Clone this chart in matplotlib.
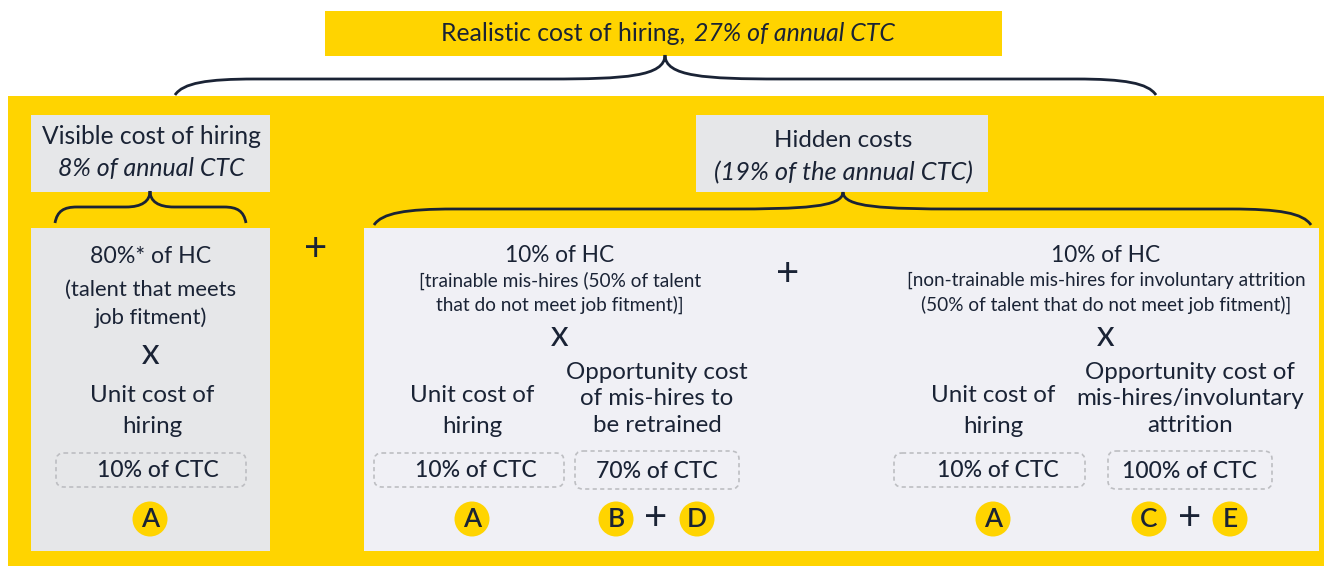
"""Realistic cost of hiring diagram."""
import matplotlib

matplotlib.use("Agg")
import matplotlib.pyplot as plt
from matplotlib.patches import FancyBboxPatch, Circle, PathPatch, Rectangle
from matplotlib.path import Path

YELLOW = "#FFD400"
GREY = "#E6E7E9"
LIGHT = "#F0F0F5"
INK = "#1A2335"
DASH = "#BDBEC2"

title_parts = ["Realistic cost of hiring,", "27% of annual CTC"]
visible_head = ["Visible cost of hiring", "8% of annual CTC"]
hidden_head = ["Hidden costs", "(19% of the annual CTC)"]
left_share = ["80%* of HC", "(talent that meets", "job fitment)"]
mid_share = ["10% of HC", "[trainable mis-hires (50% of talent", "that do not meet job fitment)]"]
right_share = ["10% of HC", "[non-trainable mis-hires for involuntary attrition", "(50% of talent that do not meet job fitment)]"]
unit_cost = ["Unit cost of", "hiring"]
mid_opportunity = ["Opportunity cost", "of mis-hires to", "be retrained"]
right_opportunity = ["Opportunity cost of", "mis-hires/involuntary", "attrition"]
unit_pct = "10% of CTC"
mid_pct = "70% of CTC"
right_pct = "100% of CTC"

plt.rcParams["font.family"] = ["Lato", "DejaVu Sans"]

fig = plt.figure(figsize=(13.24, 5.66), dpi=100)
ax = fig.add_axes([0, 0, 1, 1])
ax.set_xlim(0, 1324)
ax.set_ylim(566, 0)
ax.axis("off")


def box(x0, y0, x1, y1, color, z=1):
    ax.add_patch(Rectangle((x0, y0), x1 - x0, y1 - y0, fc=color, ec="none", zorder=z))


def label(x, y, text, size=17.4, ha="center", **kw):
    ax.text(x, y + 1.5, text, fontsize=size, ha=ha, va="center", color=INK, zorder=5, **kw)


def stack(x, ys, lines, size=17.4):
    for y, line in zip(ys, lines):
        label(x, y, line, size=size)


def dashed(x0, y0, x1, y1):
    ax.add_patch(FancyBboxPatch((x0 + 8, y0 + 8), x1 - x0 - 16, y1 - y0 - 16,
                                boxstyle="round,pad=8,rounding_size=8", fc="none",
                                ec=DASH, lw=1.2, ls=(0, (2.5, 2)), zorder=4))


def badge(x, y, letter):
    ax.add_patch(Circle((x, y), 17.5, fc=YELLOW, ec="none", zorder=4))
    label(x, y - 1, letter, size=19, weight="semibold")


def brace(x0, xm, x1, tip, bar, end, run, tip_run, pinch=0.3, lw=2.0):
    # run is the curve at each end, tip_run the curve going into the tip
    knee = bar - (bar - tip) * pinch
    verts = [(x0, end), (x0 + run * 0.1, bar + (end - bar) * 0.25), (x0 + run * 0.4, bar), (x0 + run, bar)]
    codes = [Path.MOVETO, Path.CURVE4, Path.CURVE4, Path.CURVE4]
    verts += [(xm - tip_run, bar)]
    codes += [Path.LINETO]
    verts += [(xm - tip_run * 0.35, bar), (xm, knee), (xm, tip)]
    codes += [Path.CURVE4, Path.CURVE4, Path.CURVE4]
    verts += [(xm, knee), (xm + tip_run * 0.35, bar), (xm + tip_run, bar)]
    codes += [Path.CURVE4, Path.CURVE4, Path.CURVE4]
    verts += [(x1 - run, bar)]
    codes += [Path.LINETO]
    verts += [(x1 - run * 0.4, bar), (x1 - run * 0.1, bar + (end - bar) * 0.25), (x1, end)]
    codes += [Path.CURVE4, Path.CURVE4, Path.CURVE4]
    ax.add_patch(PathPatch(Path(verts, codes), fc="none", ec=INK, lw=lw, zorder=6))


# panels
box(325, 11, 1002, 56, YELLOW)
box(8, 96, 1324, 566, YELLOW)
box(31, 115, 270, 192, GREY, 2)
box(696, 115, 988, 192, GREY, 2)
box(31, 228, 270, 551, GREY, 2)
box(364, 228, 1319, 551, LIGHT, 2)

# braces
brace(175, 665, 1156, 55, 79, 95, 80, 115, pinch=0.1)
brace(55, 150, 246, 191, 207, 223, 22, 24, pinch=0.35)
brace(374, 843, 1311, 192, 209, 225, 80, 115, pinch=0.1)

# header text
label(685, 32, title_parts[0], ha="right", size=17.8)
label(694, 32, title_parts[1], ha="left", style="italic", size=17.9)
label(151, 135, visible_head[0], size=17.7)
label(151, 167, visible_head[1], style="italic", size=17.9)
label(843, 139, hidden_head[0])
label(843, 171, hidden_head[1], style="italic", size=18.3)

# left panel
label(151, 255, left_share[0], size=16.7)
stack(151, [288, 316], left_share[1:], size=15.8)
label(151, 355, "X", size=19, weight="semibold")
stack(152, [394, 425], unit_cost)
dashed(56, 453, 246, 487)
label(158, 469, unit_pct, size=16.5, weight="medium")
badge(150, 519, "A")

label(316, 248, "+", size=29)

# middle block
label(560, 254, mid_share[0], size=16.3)
stack(560, [279, 303], mid_share[1:], size=13.7)
label(560, 337, "X", size=19, weight="semibold")
stack(472, [394, 425], unit_cost)
stack(657, [371, 397, 424], mid_opportunity)
dashed(374, 453, 564, 487)
label(476, 469, unit_pct, size=16.5, weight="medium")
dashed(575, 451, 739, 489)
label(657, 470, mid_pct, size=16.5, weight="medium")
badge(472, 519, "A")
badge(616, 519, "B")
label(656, 517, "+", size=29)
badge(697, 519, "D")

label(788, 273, "+", size=29)

# right block
label(1106, 254, right_share[0], size=16.3)
stack(1106, [279, 303], right_share[1:], size=13.7)
label(1106, 337, "X", size=19, weight="semibold")
stack(993, [394, 425], unit_cost)
stack(1190, [371, 397, 424], right_opportunity)
dashed(894, 453, 1085, 487)
label(998, 469, unit_pct, size=16.5, weight="medium")
dashed(1108, 451, 1272, 489)
label(1190, 470, right_pct, size=16.5, weight="medium")
badge(993, 519, "A")
badge(1149, 519, "C")
label(1190, 517, "+", size=29)
badge(1230, 519, "E")

fig.savefig("out.png", dpi=100)
